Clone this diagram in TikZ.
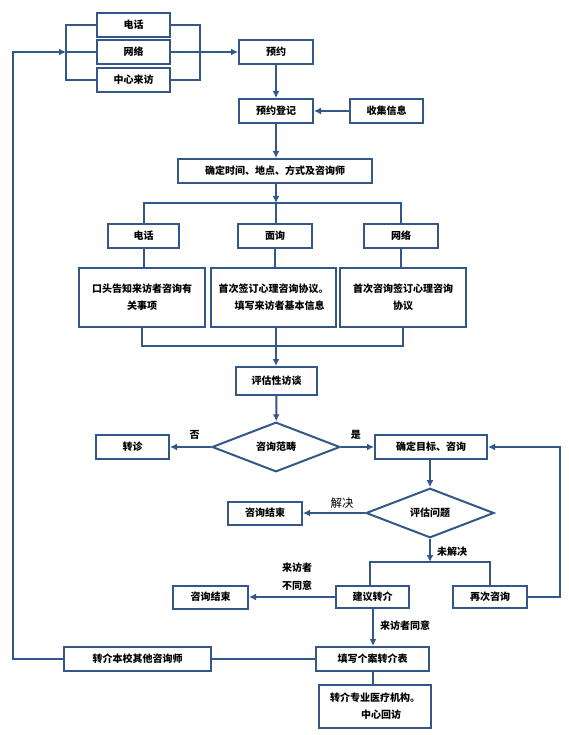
\documentclass[tikz,border=0pt]{standalone}
\usepackage{fontspec}
\setmainfont{Noto Sans CJK SC}
\usetikzlibrary{positioning,shapes.geometric,arrows.meta}
\definecolor{flowblue}{HTML}{34578A}

\begin{document}
\begin{tikzpicture}[
  x=1pt, y=-1pt,
  box/.style={draw=flowblue, line width=2pt, fill=white, minimum width=73pt, minimum height=24pt, align=center, inner sep=0pt, font=\fontsize{10}{17}\selectfont\bfseries},
  decision/.style={diamond, draw=flowblue, line width=2pt, minimum width=128pt, minimum height=48pt, inner sep=0pt, font=\fontsize{10}{12}\selectfont\bfseries},
  link/.style={draw=flowblue, line width=2pt},
  arr/.style={link, -{Latex[length=7pt,width=7pt]}},
  lbl/.style={font=\fontsize{10}{12}\selectfont\bfseries, inner sep=0pt}
]
\useasboundingbox (0,0) rectangle (568,735);

% ways of making an appointment
\node[box] (tel) at (133.5,25) {电话};
\node[box, below=1pt of tel] (net) {网络};
\node[box, below=2pt of net] (visit) {中心来访};
\coordinate (lbr) at (net.west -| 66,0);
\coordinate (rbr) at (net.east -| 200,0);
\node[box, minimum width=74pt] (appoint) at (rbr -| 276,0) {预约};
\node[box, minimum width=74pt] (register) at (276,111) {预约登记};
\node[box] (collect) at (386.5,111) {收集信息};
\node[box, minimum width=194pt] (settle) at (275,171) {确定时间、地点、方式及咨询师};

% three channels
\coordinate (top3) at (276,203);
\node[box, minimum width=71pt] (mtel) at (143.5,236) {电话};
\node[box, minimum width=74pt] (mface) at (275,236) {面询};
\node[box, minimum width=74pt] (mnet) at (401,236) {网络};
\node[box, minimum width=126pt, minimum height=59pt] (dtel) at (142,297.5) {口头告知来访者咨询有\\关事项};
\node[box, minimum width=125pt, minimum height=59pt] (dface) at (273.5,297.5) {首次签订心理咨询协议。\\\hspace{12pt}填写来访者基本信息};
\node[box, minimum width=126pt, minimum height=59pt] (dnet) at (403,297.5) {\raisebox{4pt}{\begin{tabular}{@{}c@{}}首次咨询签订心理咨询\\协议\end{tabular}}};
\coordinate (bot3) at (276,346);

% assessment
\node[box, minimum width=81pt, minimum height=28pt] (assess) at (276.5,381) {评估性访谈};
\node[decision] (scope) at (276,447) {咨询范畴};
\node[box] (refer) at (132.5,447) {转诊};
\node[box, minimum width=112pt] (goal) at (431,447) {确定目标、咨询};
\node[decision] (problem) at (430,513) {评估问题};
\node[box, minimum width=74pt, minimum height=23pt] (end1) at (265,513) {咨询结束};
\coordinate (split) at (430,562);
\node[box, minimum height=22pt] (suggest) at (372.5,597) {建议转介};
\node[box, minimum width=74pt, minimum height=22pt] (again) at (490,597) {再次咨询};
\node[box, minimum width=75pt, minimum height=23pt] (end2) at (210.5,597) {咨询结束};
\coordinate (rloop) at (560,447);

% referral
\node[box, minimum width=113pt] (form) at (372.5,659) {填写个案转介表};
\node[box, minimum width=147pt] (inner) at (137.5,659) {转介本校其他咨询师};
\node[box, minimum width=112pt, minimum height=43pt] (hospital) at (375,706.5) {转介专业医疗机构。\\\hspace{12pt}中心回访};
\coordinate (loop) at (lbr -| 13,0);

% connectors
\draw[link] (tel.west) -| (lbr) |- (visit.west);
\draw[link] (net.west) -- (lbr);
\draw[link] (tel.east) -| (rbr) |- (visit.east);
\draw[link] (net.east) -- (rbr);
\draw[arr] (rbr) -- (appoint.west);
\draw[arr] (appoint) -- (register);
\draw[arr] (collect) -- (register);
\draw[arr] (register) -- (register |- settle.north);
\draw[arr] (top3 |- settle.south) -- (top3);
\draw[link] (mtel.north) |- (top3) -| (mnet.north);
\draw[link] (top3) -- (top3 |- mface.north);
\draw[link] (mtel) -- (mtel.south |- dtel.north);
\draw[link] (mface.south) -- (mface.south |- dface.north);
\draw[link] (mnet.south) -- (mnet.south |- dnet.north);
\draw[link] (dtel.south) |- (bot3) -| (dnet.south);
\draw[link] (bot3 |- dface.south) -- (bot3);
\draw[arr] (bot3) -- (bot3 |- assess.north);
\draw[arr] (assess) -- (scope);
\draw[arr] (scope) -- node[lbl, above=7pt, pos=0.4] {否} (refer);
\draw[arr] (scope) -- node[lbl, above=7pt, pos=0.45] {是} (goal);
\draw[arr] (problem.north |- goal.south) -- (problem.north);
\draw[arr] (problem) -- node[above=4pt, pos=0.37, inner sep=0pt, font=\fontsize{11.5}{12}\selectfont] {解决} (end1);
\draw[arr] (problem.south) -- node[lbl, right=6pt, pos=0.55] {未解决} (split);
\draw[link] (suggest.north -| 370,0) |- (split) -| (again.north -| 490,0);
\draw[arr] (suggest) -- (end2);
\node[lbl] (refuse1) at (297,568) {来访者};
\node[lbl] (refuse2) at (297,586) {不同意};
\draw[arr] (suggest.south -| 373,0) -- node[lbl, right=6pt, pos=0.45] {来访者同意} (form.north -| 373,0);
\draw[arr] (again.east) -| (rloop) -- (goal.east);
\draw[link] (form) -- (inner);
\draw[link] (form.south -| 373,0) -- (hospital.north -| 373,0);
\draw[arr] (inner.west) -| (loop) -- (lbr);

\end{tikzpicture}
\end{document}
